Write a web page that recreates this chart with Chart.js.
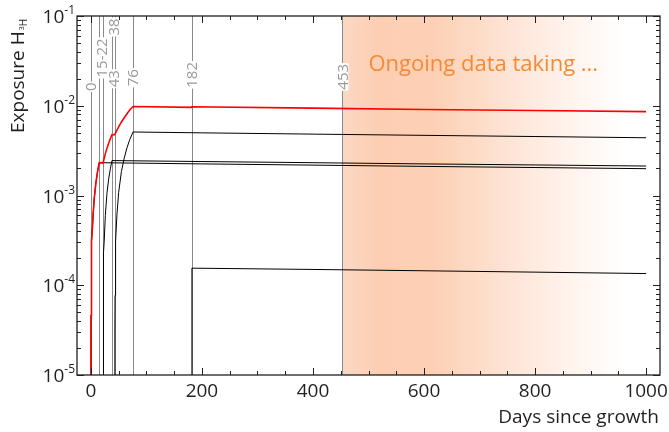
<!DOCTYPE html>
<html>
<head>
<meta charset="utf-8">
<script src="https://cdn.jsdelivr.net/npm/chart.js@4.4.0/dist/chart.umd.min.js"></script>
<style>
  html, body { margin: 0; padding: 0; background: #fff; }
  #wrap { width: 669px; height: 432px; }
</style>
</head>
<body>
<div id="wrap"><canvas id="exposureChart" width="669" height="432"></canvas></div>
<script>
// exposure per irradiation run
const run1Days = [0.07, 0.1, 0.15, 0.2, 0.3, 0.5, 0.7, 1, 1.5, 2, 3, 4, 6, 9, 12, 15, 200, 400, 600, 800, 1000];
const run1Exposure = [1.0e-5, 1.5e-5, 2.3e-5, 3.1e-5, 4.6e-5, 7.7e-5, 1.07e-4, 1.5e-4, 2.3e-4, 3.1e-4, 4.6e-4, 6.1e-4, 9.2e-4, 1.38e-3, 1.84e-3, 2.32e-3, 2.25e-3, 2.18e-3, 2.11e-3, 2.05e-3, 1.99e-3];

const run2Days = [22.07, 22.15, 22.3, 22.5, 23, 23.5, 24, 26, 29, 32, 35, 38, 200, 400, 600, 800, 1000];
const run2Exposure = [1.0e-5, 2.3e-5, 4.6e-5, 7.7e-5, 1.5e-4, 2.3e-4, 3.1e-4, 6.0e-4, 1.06e-3, 1.52e-3, 1.98e-3, 2.45e-3, 2.39e-3, 2.32e-3, 2.25e-3, 2.19e-3, 2.13e-3];

const run3Days = [43.07, 43.2, 43.5, 44, 45, 47, 50, 55, 60, 65, 70, 76, 200, 400, 600, 800, 1000];
const run3Exposure = [1.0e-5, 3.0e-5, 7.7e-5, 1.55e-4, 3.1e-4, 6.2e-4, 1.08e-3, 1.85e-3, 2.6e-3, 3.4e-3, 4.2e-3, 5.1e-3, 4.99e-3, 4.83e-3, 4.68e-3, 4.54e-3, 4.4e-3];

const run4Days = [182, 182, 400, 600, 800, 1000];
const run4Exposure = [1.0e-5, 1.55e-4, 1.5e-4, 1.45e-4, 1.4e-4, 1.35e-4];

const totalDays = [0.07, 0.1, 0.15, 0.2, 0.3, 0.5, 0.7, 1, 1.5, 2, 3, 4, 6, 9, 12, 15, 22, 24, 26, 29, 32, 35, 38, 43, 45, 47, 50, 55, 60, 65, 70, 76, 182, 182, 400, 600, 800, 1000];
const totalExposure = [1.0e-5, 1.5e-5, 2.3e-5, 3.1e-5, 4.6e-5, 7.7e-5, 1.07e-4, 1.5e-4, 2.3e-4, 3.1e-4, 4.6e-4, 6.1e-4, 9.2e-4, 1.38e-3, 1.84e-3, 2.32e-3, 2.31e-3, 2.6e-3, 2.91e-3, 3.37e-3, 3.83e-3, 4.29e-3, 4.76e-3, 4.75e-3, 5.06e-3, 5.37e-3, 5.83e-3, 6.6e-3, 7.35e-3, 8.15e-3, 8.95e-3, 9.8e-3, 9.6e-3, 9.75e-3, 9.4e-3, 9.1e-3, 8.85e-3, 8.6e-3];

// vertical markers and their labels
const markerDays = [0, 15, 22, 38, 43, 76, 182, 453];
const markerTexts = ['0', '15-22', '38', '43', '76', '182', '453'];
const markerTextDays = [0, 19, 40.5, 41, 76, 182, 453];
const markerTextLevels = [1.63e-2, 3.41e-2, 7.55e-2, 2.0e-2, 2.05e-2, 2.21e-2, 2.1e-2];

const ongoingFrom = 453;
const ongoingText = 'Ongoing data taking ...';

// ticks
const xTickLabels = [0, 200, 400, 600, 800, 1000];
const xMinorStep = 50;
const yDecades = [-5, -4, -3, -2, -1];

const FONT = '"Open Sans", "Noto Sans", sans-serif';
const INK = '#231f20';

function pts(xs, ys) {
    return xs.map((v, i) => ({ x: v, y: ys[i] }));
}

const overlay = {
    id: 'overlay',
    beforeDatasetsDraw(chart) {
        const { ctx, chartArea: a, scales: { x, y } } = chart;
        ctx.save();

        // fading band for ongoing measurement
        const x0 = x.getPixelForValue(ongoingFrom);
        const g = ctx.createLinearGradient(x0, 0, a.right, 0);
        g.addColorStop(0, 'rgb(251,216,196)');
        g.addColorStop(0.12, 'rgb(253,206,178)');
        g.addColorStop(0.29, 'rgb(253,208,181)');
        g.addColorStop(0.5, 'rgb(254,226,210)');
        g.addColorStop(0.71, 'rgb(255,243,236)');
        g.addColorStop(0.9, 'rgb(255,255,255)');
        ctx.fillStyle = g;
        ctx.fillRect(x0, a.top, a.right - x0, a.bottom - a.top);

        // marker lines
        ctx.strokeStyle = '#8a8a8a';
        ctx.lineWidth = 1;
        markerDays.forEach(d => {
            const px = Math.round(x.getPixelForValue(d)) + 0.5;
            ctx.beginPath();
            ctx.moveTo(px, a.top);
            ctx.lineTo(px, a.bottom);
            ctx.stroke();
        });

        // marker labels, rotated, on white
        ctx.font = '15px ' + FONT;
        ctx.textAlign = 'center';
        ctx.textBaseline = 'middle';
        markerTexts.forEach((t, i) => {
            const px = x.getPixelForValue(markerTextDays[i]);
            const py = y.getPixelForValue(markerTextLevels[i]);
            const w = ctx.measureText(t).width;
            ctx.save();
            ctx.translate(px, py);
            ctx.rotate(-Math.PI / 2);
            ctx.fillStyle = '#fff';
            ctx.fillRect(-w / 2 - 1, -6, w + 2, 12);
            ctx.fillStyle = '#9a9a9a';
            ctx.fillText(t, 0, 1);
            ctx.restore();
        });

        // ongoing text
        ctx.font = '22px ' + FONT;
        ctx.textAlign = 'left';
        ctx.textBaseline = 'alphabetic';
        ctx.fillStyle = '#f58a35';
        ctx.fillText(ongoingText, x.getPixelForValue(500), y.getPixelForValue(0.0245));
        ctx.restore();
    },
    afterDraw(chart) {
        const { ctx, chartArea: a, scales: { x, y } } = chart;
        ctx.save();
        ctx.strokeStyle = INK;
        ctx.lineWidth = 1;

        // inward ticks, x
        for (let d = 0; d <= 1000; d += xMinorStep) {
            const px = Math.round(x.getPixelForValue(d)) + 0.5;
            const len = d % 200 === 0 ? 7 : 4;
            ctx.beginPath();
            ctx.moveTo(px, a.bottom); ctx.lineTo(px, a.bottom - len);
            ctx.moveTo(px, a.top); ctx.lineTo(px, a.top + len);
            ctx.stroke();
        }
        // inward ticks, y
        yDecades.forEach(e => {
            for (let m = 1; m <= 9; m++) {
                const v = m * Math.pow(10, e);
                if (v > 0.1 + 1e-12) break;
                const py = Math.round(y.getPixelForValue(v)) + 0.5;
                const len = m === 1 ? 7 : 4;
                ctx.beginPath();
                ctx.moveTo(a.left, py); ctx.lineTo(a.left + len, py);
                ctx.moveTo(a.right, py); ctx.lineTo(a.right - len, py);
                ctx.stroke();
            }
        });

        // frame
        ctx.lineWidth = 1.3;
        ctx.strokeRect(a.left, a.top, a.right - a.left, a.bottom - a.top);

        // x tick labels
        ctx.fillStyle = INK;
        ctx.font = '19px ' + FONT;
        ctx.textAlign = 'center';
        ctx.textBaseline = 'alphabetic';
        xTickLabels.forEach(d => {
            ctx.fillText(String(d), x.getPixelForValue(d), a.bottom + 22);
        });

        // y tick labels 10^n
        yDecades.forEach(e => {
            const py = y.getPixelForValue(Math.pow(10, e));
            ctx.font = '12px ' + FONT;
            ctx.textAlign = 'right';
            const sup = String(e);
            const sw = ctx.measureText(sup).width;
            ctx.fillText(sup, a.left - 2, py - 2);
            ctx.font = '19px ' + FONT;
            ctx.fillText('10', a.left - 2 - sw, py + 7);
        });

        // x title
        ctx.font = '19px ' + FONT;
        ctx.textAlign = 'right';
        ctx.fillText('Days since growth', a.right - 1, a.bottom + 48);

        // y title with 3H subscript
        ctx.save();
        ctx.translate(24, 133);
        ctx.rotate(-Math.PI / 2);
        ctx.textAlign = 'left';
        ctx.font = '19px ' + FONT;
        const main = 'Exposure H';
        ctx.fillText(main, 0, 0);
        let off = ctx.measureText(main).width + 1;
        ctx.font = '7px ' + FONT;
        ctx.fillText('3', off, 0);
        off += ctx.measureText('3').width;
        ctx.font = '10px ' + FONT;
        ctx.fillText('H', off, 3);
        ctx.restore();

        ctx.restore();
    }
};

const ctx = document.getElementById('exposureChart').getContext('2d');
const exposureChart = new Chart(ctx, {
    type: 'scatter',
    data: {
        datasets: [
            { label: 'Total', data: pts(totalDays, totalExposure), borderColor: '#ff0000', borderWidth: 1.6 },
            { label: 'Run 1', data: pts(run1Days, run1Exposure), borderColor: '#000000', borderWidth: 1 },
            { label: 'Run 2', data: pts(run2Days, run2Exposure), borderColor: '#000000', borderWidth: 1 },
            { label: 'Run 3', data: pts(run3Days, run3Exposure), borderColor: '#000000', borderWidth: 1 },
            { label: 'Run 4', data: pts(run4Days, run4Exposure), borderColor: '#000000', borderWidth: 1 }
        ].map(ds => Object.assign(ds, { showLine: true, pointRadius: 0, tension: 0, fill: false }))
    },
    options: {
        responsive: false,
        animation: false,
        devicePixelRatio: 1,
        layout: { padding: { top: 16, right: 9, left: 0, bottom: 0 } },
        plugins: { legend: { display: false }, tooltip: { enabled: false } },
        scales: {
            x: {
                type: 'linear', min: -25, max: 1025,
                grid: { display: false }, border: { display: false },
                ticks: { display: false },
                afterFit(s) { s.height = 57; }
            },
            y: {
                type: 'logarithmic', min: 1e-5, max: 0.1,
                grid: { display: false }, border: { display: false },
                ticks: { display: false },
                afterFit(s) { s.width = 77; }
            }
        }
    },
    plugins: [overlay]
});
</script>
</body>
</html>
